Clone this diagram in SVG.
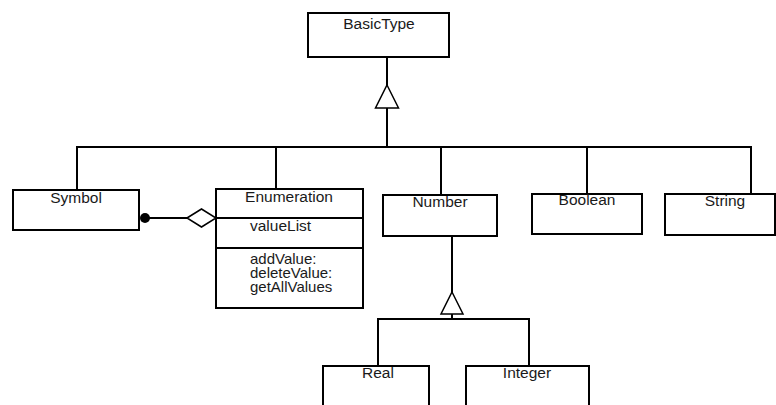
<svg xmlns="http://www.w3.org/2000/svg" width="776" height="405" viewBox="0 0 776 405">
  <style>
    .box { fill: #fff; stroke: #000; stroke-width: 2; }
    .line { fill: none; stroke: #000; stroke-width: 2; }
    .hollow { fill: #fff; stroke: #000; stroke-width: 1.5; }
    text { font-family: "Liberation Sans", Arial, sans-serif; font-size: 15.5px; fill: #1a1a1a; }
    .c { text-anchor: middle; }
    .op { font-size: 15px; }
  </style>
  <rect width="776" height="405" fill="#fff"/>

  <!-- connectors -->
  <g id="connectors">
    <!-- generalization to BasicType -->
    <line class="line" x1="387" y1="57" x2="387" y2="86"/>
    <line class="line" x1="387" y1="105" x2="387" y2="147"/>
    <line class="line" x1="76" y1="147" x2="752" y2="147"/>
    <line class="line" x1="77" y1="147" x2="77" y2="190"/>
    <line class="line" x1="276" y1="147" x2="276" y2="190"/>
    <line class="line" x1="441" y1="147" x2="441" y2="195"/>
    <line class="line" x1="587" y1="147" x2="587" y2="194"/>
    <line class="line" x1="751" y1="147" x2="751" y2="196"/>
    <polygon class="hollow" points="387,85 398.5,108 375.5,108"/>

    <!-- generalization to Number -->
    <line class="line" x1="452" y1="236" x2="452" y2="293"/>
    <line class="line" x1="452" y1="311" x2="452" y2="319"/>
    <line class="line" x1="377" y1="319" x2="530" y2="319"/>
    <line class="line" x1="378" y1="319" x2="378" y2="366"/>
    <line class="line" x1="529" y1="319" x2="529" y2="366"/>
    <polygon class="hollow" points="452,292 463,314 441,314"/>

    <!-- aggregation Symbol - Enumeration -->
    <line class="line" x1="146" y1="218" x2="188" y2="218"/>
    <circle cx="145" cy="218" r="5" fill="#000"/>
    <polygon class="hollow" points="187,218 201.5,209 216,218 201.5,227"/>
  </g>

  <g id="BasicType">
    <rect class="box" x="308" y="13" width="141" height="44"/>
    <text class="c" x="379" y="29">BasicType</text>
  </g>

  <g id="Symbol">
    <rect class="box" x="13" y="190" width="126" height="40"/>
    <text class="c" x="76" y="203">Symbol</text>
  </g>

  <g id="Enumeration">
    <rect class="box" x="216" y="189" width="147" height="119"/>
    <line class="line" x1="216" y1="218" x2="363" y2="218"/>
    <line class="line" x1="216" y1="248" x2="363" y2="248"/>
    <text class="c" x="289" y="202">Enumeration</text>
    <text x="250" y="231">valueList</text>
    <text class="op" x="250" y="264">addValue:</text>
    <text class="op" x="250" y="278">deleteValue:</text>
    <text class="op" x="250" y="292">getAllValues</text>
  </g>

  <g id="Number">
    <rect class="box" x="383" y="195" width="114" height="41"/>
    <text class="c" x="440" y="207">Number</text>
  </g>

  <g id="Boolean">
    <rect class="box" x="532" y="194" width="110" height="40"/>
    <text class="c" x="587" y="205">Boolean</text>
  </g>

  <g id="String">
    <rect class="box" x="665" y="194" width="110" height="41"/>
    <text class="c" x="725" y="206">String</text>
  </g>

  <g id="Real">
    <rect class="box" x="323" y="366" width="106" height="50"/>
    <text class="c" x="378" y="378">Real</text>
  </g>

  <g id="Integer">
    <rect class="box" x="466" y="366" width="123" height="50"/>
    <text class="c" x="527" y="378">Integer</text>
  </g>
</svg>
